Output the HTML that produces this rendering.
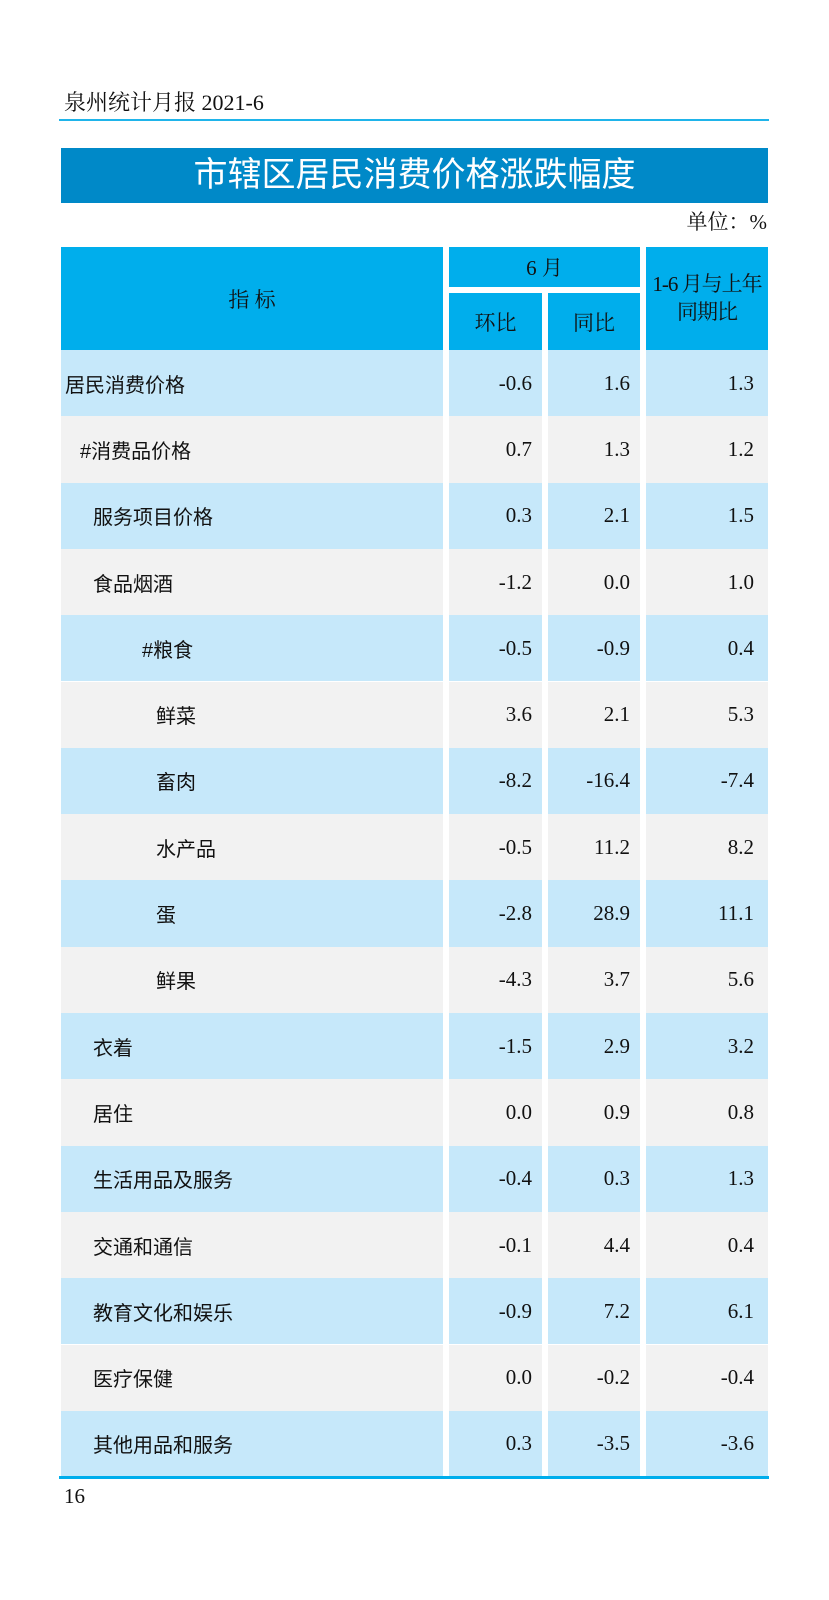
<!DOCTYPE html>
<html><head><meta charset="utf-8"><style>
body{margin:0;width:829px;height:1600px;background:#fff;position:relative;font-family:"Liberation Serif","Noto Serif CJK SC",serif;color:#111}
.a{position:absolute}
.hdr{left:64px;top:86px;font-size:22px}
.line{left:59px;width:710px;top:119px;height:2px;background:#1fb4ea}
.title{left:61px;top:148px;width:707px;height:55px;background:#0089c8;color:#fff;font-family:"Liberation Sans","Noto Sans CJK SC",sans-serif;font-size:34px;text-align:center;line-height:55px}
.unit{right:62px;top:206px;font-size:21px}
.hb{background:#00aeec;font-size:21px;display:flex;align-items:center;justify-content:center;text-align:center}
.r{position:absolute;height:66.3px}
.c{position:absolute;top:0;height:100%;display:flex;align-items:center;font-size:21px}
.v{justify-content:flex-end;padding-right:10px;box-sizing:border-box}
.bot{left:59px;width:710px;top:1476px;height:3px;background:#00aeec}
</style></head><body>
<div class="a hdr">泉州统计月报 2021-6</div>
<div class="a line"></div>
<div class="a title">市辖区居民消费价格涨跌幅度</div>
<div class="a unit">单位：%</div>
<div class="a hb" style="left:61px;top:247px;width:382px;height:103px">指 标</div>
<div class="a hb" style="left:449px;top:247px;width:191px;height:40px">6 月</div>
<div class="a hb" style="left:449px;top:293px;width:93px;height:57px">环比</div>
<div class="a hb" style="left:548px;top:293px;width:92px;height:57px">同比</div>
<div class="a hb" style="left:646px;top:247px;width:122px;height:103px;line-height:1.3;letter-spacing:-1px">1-6 月与上年<br>同期比</div>
<div id="rows"></div>
<div class="a bot"></div>
<div class="a" style="left:64px;top:1484px;font-size:21px">16</div>
<script>
var d=[["居民消费价格",65,"-0.6","1.6","1.3"],["#消费品价格",80,"0.7","1.3","1.2"],["服务项目价格",93,"0.3","2.1","1.5"],["食品烟酒",93,"-1.2","0.0","1.0"],["#粮食",142,"-0.5","-0.9","0.4"],["鲜菜",156,"3.6","2.1","5.3"],["畜肉",156,"-8.2","-16.4","-7.4"],["水产品",156,"-0.5","11.2","8.2"],["蛋",156,"-2.8","28.9","11.1"],["鲜果",156,"-4.3","3.7","5.6"],["衣着",93,"-1.5","2.9","3.2"],["居住",93,"0.0","0.9","0.8"],["生活用品及服务",93,"-0.4","0.3","1.3"],["交通和通信",93,"-0.1","4.4","0.4"],["教育文化和娱乐",93,"-0.9","7.2","6.1"],["医疗保健",93,"0.0","-0.2","-0.4"],["其他用品和服务",93,"0.3","-3.5","-3.6"]];
var h="";d.forEach(function(r,i){var bg=i%2?"#f2f2f2":"#c6e8fa";var t=350+i*66.3;
h+='<div class="r" style="top:'+t+'px;left:0;width:829px">'+
'<div class="c" style="left:61px;width:382px;background:'+bg+';padding-left:'+(r[1]-61)+'px;box-sizing:border-box;font-family:\'Liberation Sans\',\'Noto Sans CJK SC\',sans-serif;font-size:20px">'+r[0]+'</div>'+
'<div class="c v" style="left:449px;width:93px;background:'+bg+'">'+r[2]+'</div>'+
'<div class="c v" style="left:548px;width:92px;background:'+bg+'">'+r[3]+'</div>'+
'<div class="c v" style="left:646px;width:122px;background:'+bg+';padding-right:14px">'+r[4]+'</div></div>';});
document.getElementById("rows").innerHTML=h;
</script>
</body></html>
